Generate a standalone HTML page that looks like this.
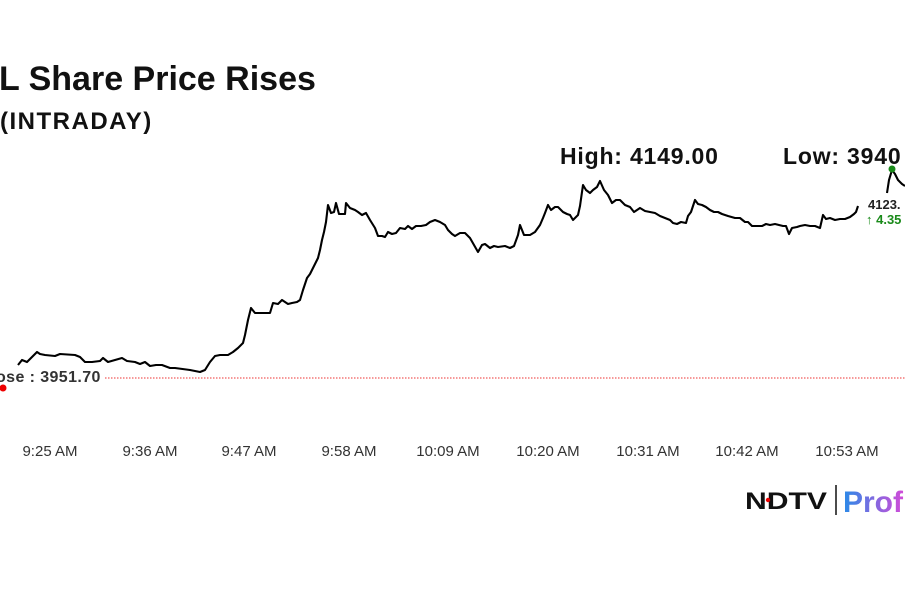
<!DOCTYPE html>
<html><head><style>
body{margin:0;width:905px;height:613px;background:#fff;overflow:hidden;position:relative;font-family:"Liberation Sans",sans-serif}
.t{position:absolute;white-space:nowrap;color:#111}
</style></head><body>
<div class="t" style="left:-1px;top:60px;font-size:34px;font-weight:bold;letter-spacing:0px">L Share Price Rises</div>
<div class="t" style="left:0;top:108px;font-size:24px;font-weight:bold;letter-spacing:1.5px">(INTRADAY)</div>
<div class="t" style="left:560px;top:143px;font-size:23px;font-weight:bold;letter-spacing:0.8px">High: 4149.00</div>
<div class="t" style="left:783px;top:143px;font-size:23px;font-weight:bold;letter-spacing:0.8px">Low: 3940</div>
<div class="t" style="left:-4px;top:369px;font-size:16px;font-weight:bold;color:#333;letter-spacing:0.4px">ose : 3951.70</div>
<div class="t" style="left:868px;top:197px;font-size:13px;font-weight:bold;color:#222">4123.</div>
<div class="t" style="left:866px;top:212px;font-size:13px;font-weight:bold;color:#1a8a1a">↑ 4.35</div>
<svg width="905" height="613" style="position:absolute;left:0;top:0">
<line x1="105" y1="378" x2="905" y2="378" stroke="#e33" stroke-width="1" stroke-dasharray="1.5,1.5"/>
<circle cx="3" cy="388" r="3.5" fill="#e00"/>
<polyline fill="none" stroke="#000" stroke-width="2.1" stroke-linejoin="round" points="18,365 22,360 27,362 33,356 37,352 40,354 45,355 55,356 60,354 75,355 80,357 85,362 92,362 100,361 103,358 108,362 115,360 122,358 127,361 135,362 140,364 145,362 150,366 156,365 162,365 170,368 175,368 190,370 200,372 205,370 210,362 215,356 220,355 228,355 233,352 238,348 243,343 245,335 248,320 251,308 255,313 262,313 270,313 273,303 278,304 282,300 288,304 292,303 297,302 300,300 303,290 307,278 310,274 313,268 318,258 320,250 322,240 324,232 326,222 328,205 331,213 334,212 336,203 339,214 345,214 346,203 350,208 355,210 358,212 362,215 366,213 370,220 375,228 378,236 382,236 385,237 388,232 392,234 396,233 400,228 405,229 408,226 412,229 416,226 421,226 426,225 430,222 435,220 440,222 445,225 448,230 452,234 455,236 460,233 465,233 470,238 474,245 478,252 482,245 485,244 490,248 494,246 498,247 505,246 510,248 514,246 518,235 520,225 524,235 530,235 535,232 540,225 543,218 545,213 548,205 551,210 555,207 558,207 563,212 567,214 570,215 573,220 578,215 580,206 583,185 586,190 590,193 593,190 597,187 600,181 604,190 608,195 612,203 616,200 620,200 625,205 630,207 634,212 640,208 645,211 650,212 655,213 660,216 665,218 670,220 673,223 677,224 681,222 686,223 688,216 691,212 695,200 698,204 702,205 706,207 710,210 714,212 718,212 722,214 728,216 735,218 740,218 745,222 748,222 752,226 757,226 762,226 766,224 770,225 775,224 783,226 786,226 789,234 792,228 797,227 800,226 805,225 810,226 815,226 820,228 823,215 826,219 830,218 835,220 840,219 845,219 850,217 854,214 856,212 858,206"/>
<polyline fill="none" stroke="#000" stroke-width="2.1" stroke-linejoin="round" points="887,193 889,180 892,170 895,174 898,180 902,184 905,186"/>
<circle cx="892" cy="169" r="3.5" fill="#1a8a1a"/>
<g font-size="15" fill="#333" text-anchor="middle" font-family="Liberation Sans,sans-serif">
<text x="50" y="456">9:25 AM</text>
<text x="150" y="456">9:36 AM</text>
<text x="249" y="456">9:47 AM</text>
<text x="349" y="456">9:58 AM</text>
<text x="448" y="456">10:09 AM</text>
<text x="548" y="456">10:20 AM</text>
<text x="648" y="456">10:31 AM</text>
<text x="747" y="456">10:42 AM</text>
<text x="847" y="456">10:53 AM</text>
</g>
<defs><linearGradient id="g" x1="0" x2="1"><stop offset="0" stop-color="#2a8be8"/><stop offset="1" stop-color="#d34ad8"/></linearGradient></defs>
<text x="745" y="509" font-size="24" font-weight="900" font-family="Liberation Sans,sans-serif" fill="#111" textLength="82" lengthAdjust="spacingAndGlyphs">NDTV</text>
<circle cx="768" cy="500" r="2.2" fill="#e00"/>
<line x1="836" y1="485" x2="836" y2="515" stroke="#111" stroke-width="1.5"/>
<text x="843" y="512" font-size="30" font-weight="bold" font-family="Liberation Sans,sans-serif" fill="url(#g)">Prof</text>
</svg>
</body></html>
